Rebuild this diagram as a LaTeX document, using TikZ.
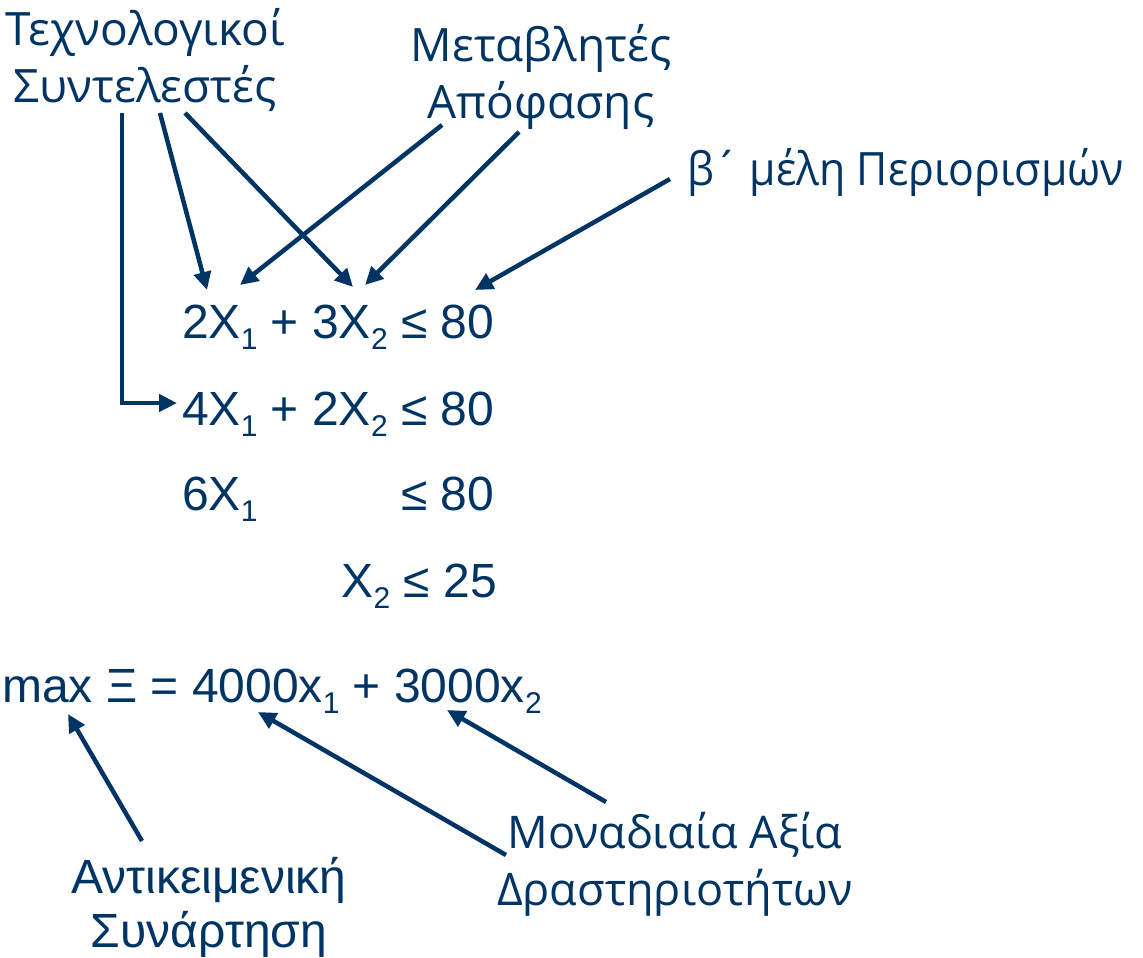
\documentclass[tikz,border=0pt]{standalone}
\usepackage{fontspec}
\setmainfont{Liberation Sans}
\newfontfamily\labfont{Open Sans}
\newfontfamily\labnarrow[FakeStretch=0.93]{Open Sans}
\usetikzlibrary{arrows.meta}
\definecolor{navy}{RGB}{0,52,100}
\newcommand\sbs[1]{\raisebox{-11pt}{\fontsize{30}{30}\selectfont #1}}
\tikzset{
  eqn/.style={inner sep=0pt, text=navy, font=\fontsize{48}{57}\selectfont},
  lab/.style={inner sep=0pt, text=navy, align=center, font=\labfont\fontsize{46}{57}\selectfont},
  alab/.style={inner sep=0pt, text=navy, align=center, font=\fontsize{48}{54}\selectfont},
  arr/.style={draw=navy, line width=4.5pt, -{Triangle[length=18pt,width=17pt]}},
}
\begin{document}
\begin{tikzpicture}[x=1pt,y=-1pt]
\useasboundingbox (0,0) rectangle (1143,958);
% labels
\node[lab, anchor=base] (tec) at (145,102) {Τεχνολογικοί\\Συντελεστές};
\node[lab, anchor=base] (met) at (541,118) {Μεταβλητές\\Απόφασης};
\node[lab, anchor=base west, font=\labnarrow\fontsize{46}{57}\selectfont] (beta) at (687,185) {β´ μέλη Περιορισμών};
\node[alab, anchor=base] (obj) at (209,947) {Αντικειμενική\\Συνάρτηση};
\node[lab, anchor=base, font=\labfont\fontsize{45}{57}\selectfont] (mon) at (675,905) {Μοναδιαία Αξία\\Δραστηριοτήτων};
% equations
\node[eqn, anchor=base west] (eq1) at (182,338) {2X\sbs{1} + 3X\sbs{2} ≤ 80};
\node[eqn, anchor=base west] (eq2) at (182,425) {4X\sbs{1} + 2X\sbs{2} ≤ 80};
\node[eqn, anchor=base west] (eq3) at (182,510) {\makebox[312pt][l]{6X\sbs{1}\hfill ≤ 80}};
\node[eqn, anchor=base east] (eq4) at (497,597) {X\sbs{2} ≤ 25};
\node[eqn, anchor=base west] (maxeq) at (2,702) {max Ξ = 4000x\sbs{1} + 3000x\sbs{2}};
% arrow end points
\coordinate (t1) at (122,113);
\coordinate (t2) at (160,113);
\coordinate (t3) at (185,113);
\coordinate (m1) at (442,125);
\coordinate (m2) at (519,132);
\coordinate (b1) at (670,179);
\coordinate (h2x1) at (207,290);
\coordinate (h3x2) at (353,287);
\coordinate (hm1) at (240,285);
\coordinate (hm2) at (365,285);
\coordinate (h80) at (475,290);
\coordinate (h4x1) at (177,403);
\coordinate (o1) at (142,841);
\coordinate (hmax) at (68,714);
\coordinate (u1) at (506,855);
\coordinate (u2) at (606,802);
\coordinate (h4000) at (258,712);
\coordinate (h3000) at (447,710);
% arrows
\draw[arr] (t1) |- (h4x1);
\draw[arr] (t2) -- (h2x1);
\draw[arr] (t3) -- (h3x2);
\draw[arr] (m1) -- (hm1);
\draw[arr] (m2) -- (hm2);
\draw[arr] (b1) -- (h80);
\draw[arr] (o1) -- (hmax);
\draw[arr] (u1) -- (h4000);
\draw[arr] (u2) -- (h3000);
\end{tikzpicture}
\end{document}
